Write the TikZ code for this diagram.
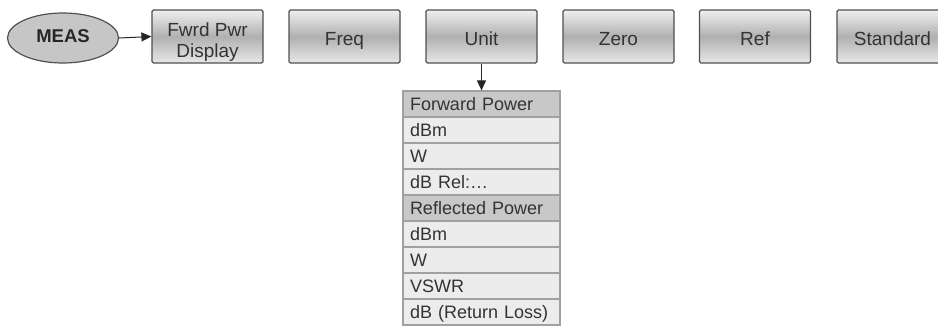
\documentclass[tikz,border=0pt]{standalone}
\usepackage{fontspec}
\setmainfont{Liberation Sans}
\usetikzlibrary{arrows.meta,shapes.geometric}
\definecolor{bordergray}{HTML}{505050}
\definecolor{rowgray}{HTML}{ECECEC}
\definecolor{headgray}{HTML}{C8C8C8}
\definecolor{rowline}{HTML}{A0A0A0}
\definecolor{txt}{HTML}{333333}
\tikzset{
  menubox/.style={draw=bordergray, line width=1.2pt, rounded corners=1.5pt,
    minimum width=111pt, minimum height=53pt, inner sep=0pt,
    top color=gray!12, bottom color=gray!18, middle color=gray!62,
    shading=axis, font=\fontsize{19}{21}\selectfont, text=txt, align=center,
    text height=17pt, text depth=0pt},
  measnode/.style={ellipse, draw=bordergray, line width=1.2pt, fill=gray!45,
    minimum width=111pt, minimum height=50pt, inner sep=0pt,
    text height=13pt, text depth=5pt,
    font=\fontsize{18.5}{20}\selectfont\bfseries, text=black!85},
  rowbox/.style={draw=rowline, line width=1.2pt, fill=rowgray,
    minimum width=157pt, minimum height=26pt, inner sep=0pt,
    text width=143pt, align=left, text height=14pt, text depth=1pt,
    font=\fontsize{18}{19}\selectfont, text=txt},
  headbox/.style={rowbox, fill=headgray},
  arr/.style={-{Triangle[length=10pt,width=9pt]}, line width=1pt, draw=black!85}
}
\begin{document}
\begin{tikzpicture}[x=1pt,y=-1pt]
\useasboundingbox (0,0) rectangle (938,327);
\clip (0,0) rectangle (938,327);
\node[measnode] (meas) at (63,38) {MEAS};
\node[menubox, text height=41pt, text depth=0pt] (fwd) at (207.5,36.5) {Fwrd Pwr\\Display};
\node[menubox] (freq) at (344.5,36.5) {Freq};
\node[menubox] (unit) at (481.5,36.5) {Unit};
\node[menubox] (zero) at (618.5,36.5) {Zero};
\node[menubox] (ref) at (755,36.5) {Ref};
\node[menubox] (std) at (892.5,36.5) {Standard};
\node[headbox] (r1) at (481.5,104) {Forward Power};
\node[rowbox] (r2) at (481.5,130) {dBm};
\node[rowbox] (r3) at (481.5,156) {W};
\node[rowbox] (r4) at (481.5,182) {dB Rel:\dots};
\node[headbox] (r5) at (481.5,208) {Reflected Power};
\node[rowbox] (r6) at (481.5,234) {dBm};
\node[rowbox] (r7) at (481.5,260) {W};
\node[rowbox] (r8) at (481.5,286) {VSWR};
\node[rowbox] (r9) at (481.5,312) {dB (Return Loss)};
\draw[arr] (meas.east) -- (fwd.west);
\draw[arr] (unit.south) -- (r1.north);
\end{tikzpicture}
\end{document}
